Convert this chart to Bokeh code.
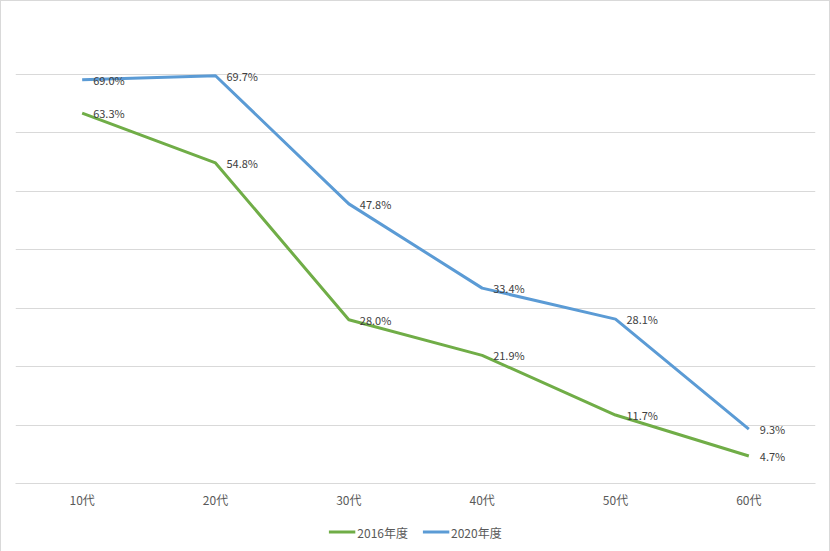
from bokeh.plotting import figure
from bokeh.layouts import column
from bokeh.models import (ColumnDataSource, FactorRange, Range1d, FixedTicker,
                          LabelSet, Legend, LegendItem)
from bokeh.core.properties import value
from bokeh.embed import file_html
from bokeh.resources import INLINE

categories = ["10代", "20代", "30代", "40代", "50代", "60代"]
series_2016 = [63.3, 54.8, 28.0, 21.9, 11.7, 4.7]
series_2020 = [69.0, 69.7, 47.8, 33.4, 28.1, 9.3]
series_names = ["2016年度", "2020年度"]
y_ticks = [0, 10, 20, 30, 40, 50, 60, 70, 80]

GREEN = "#70AD47"
BLUE = "#5B9BD5"
FONT = "Noto Sans CJK JP"

src16 = ColumnDataSource(dict(x=categories, y=series_2016,
                              lab=[f"{v:.1f}%" for v in series_2016]))
src20 = ColumnDataSource(dict(x=categories, y=series_2020,
                              lab=[f"{v:.1f}%" for v in series_2020]))

p = figure(frame_width=800, frame_height=468, output_backend="svg",
           toolbar_location=None,
           x_range=FactorRange(*categories, range_padding=0),
           y_range=Range1d(0, 80),
           min_border_left=14, min_border_right=14, min_border_top=14,
           min_border_bottom=24)
p.outline_line_color = None
p.background_fill_color = "white"
p.border_fill_color = "white"

p.yaxis.visible = False
p.yaxis.ticker = FixedTicker(ticks=y_ticks)
p.ygrid.ticker = FixedTicker(ticks=y_ticks)
p.ygrid.grid_line_color = "#D9D9D9"
p.xgrid.grid_line_color = None

ax = p.xaxis[0]
ax.axis_line_color = "#D9D9D9"
ax.major_tick_line_color = None
ax.minor_tick_line_color = None
ax.major_label_text_font = FONT
ax.major_label_text_font_size = "12px"
ax.major_label_text_color = "#595959"
ax.major_label_standoff = 1

p.line("x", "y", source=src16, line_color=GREEN, line_width=3)
p.line("x", "y", source=src20, line_color=BLUE, line_width=3)

for src in (src16, src20):
    p.add_layout(LabelSet(x="x", y="y", text="lab", source=src, x_offset=11,
                          y_offset=0, text_baseline="middle",
                          text_font=value(FONT), text_font_size="11px",
                          text_color="#404040"))

# legend strip below the chart (its sample lines lie outside its own range)
p2 = figure(width=828, height=43, output_backend="svg", toolbar_location=None,
            x_range=Range1d(0, 1), y_range=Range1d(0, 1),
            x_axis_location=None, y_axis_location=None, min_border=0)
p2.outline_line_color = None
p2.grid.visible = False
p2.border_fill_color = "white"
l16 = p2.line(x=series_2016, y=series_2016, line_color=GREEN, line_width=3)
l20 = p2.line(x=series_2020, y=series_2020, line_color=BLUE, line_width=3)
legend = Legend(items=[LegendItem(label=series_names[0], renderers=[l16]),
                       LegendItem(label=series_names[1], renderers=[l20])],
                orientation="horizontal", location="center",
                label_text_font=FONT, label_text_font_size="12px",
                label_text_color="#595959", glyph_width=27, glyph_height=14,
                label_standoff=2, spacing=14, padding=2, margin=0,
                border_line_color=None, background_fill_alpha=0)
p2.add_layout(legend, "center")

layout = column(p, p2, spacing=0)
layout.styles = {"border": "1px solid #D9D9D9"}

open("out.html", "w").write(file_html(layout, INLINE))
